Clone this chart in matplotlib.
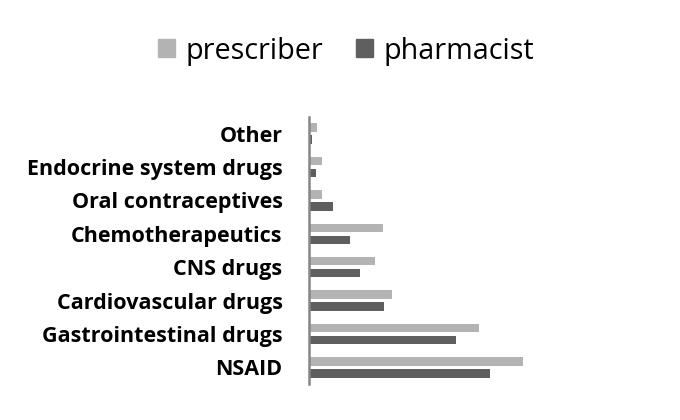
import matplotlib
matplotlib.use("Agg")
import matplotlib.pyplot as plt
import numpy as np
from matplotlib.patches import Patch

categories = ["NSAID", "Gastrointestinal drugs", "Cardiovascular drugs", "CNS drugs",
              "Chemotherapeutics", "Oral contraceptives", "Endocrine system drugs", "Other"]
prescriber = [214, 170, 83, 65.5, 73.5, 12.5, 12.5, 8]
pharmacist = [181, 147, 75, 51, 41, 24, 6.5, 3]

c_pres = "#b3b3b3"
c_pharm = "#5f5f5f"

fig = plt.figure(figsize=(6.8, 4.2), dpi=100)
ax = fig.add_axes([309/680, 1-384/420, 300/680, 267/420])

y = np.arange(len(categories))
h = 0.255
off = 0.18
ax.barh(y + off, prescriber, height=h, color=c_pres)
ax.barh(y - off, pharmacist, height=h, color=c_pharm)

ax.set_ylim(-0.5, len(categories) - 0.5)
ax.set_xlim(0, 300)
ax.set_yticks(y)
ax.set_yticklabels(categories, fontsize=15.5, fontweight="bold", family="Open Sans")
ax.tick_params(axis="y", length=0, pad=19)
ax.set_xticks([])
for s in ["top", "right", "bottom"]:
    ax.spines[s].set_visible(False)
ax.spines["left"].set_color("#868686")
ax.spines["left"].set_linewidth(1.8)

handles = [Patch(color=c_pres, label="prescriber"), Patch(color=c_pharm, label="pharmacist")]
fig.legend(handles=handles, loc="center", bbox_to_anchor=(346/680, 1-51/420), ncol=2,
           frameon=False, prop={"family": "Open Sans", "size": 20.7}, handlelength=0.6,
           handleheight=0.6, handletextpad=0.35, columnspacing=1.15)

fig.savefig("out.png", dpi=100)
